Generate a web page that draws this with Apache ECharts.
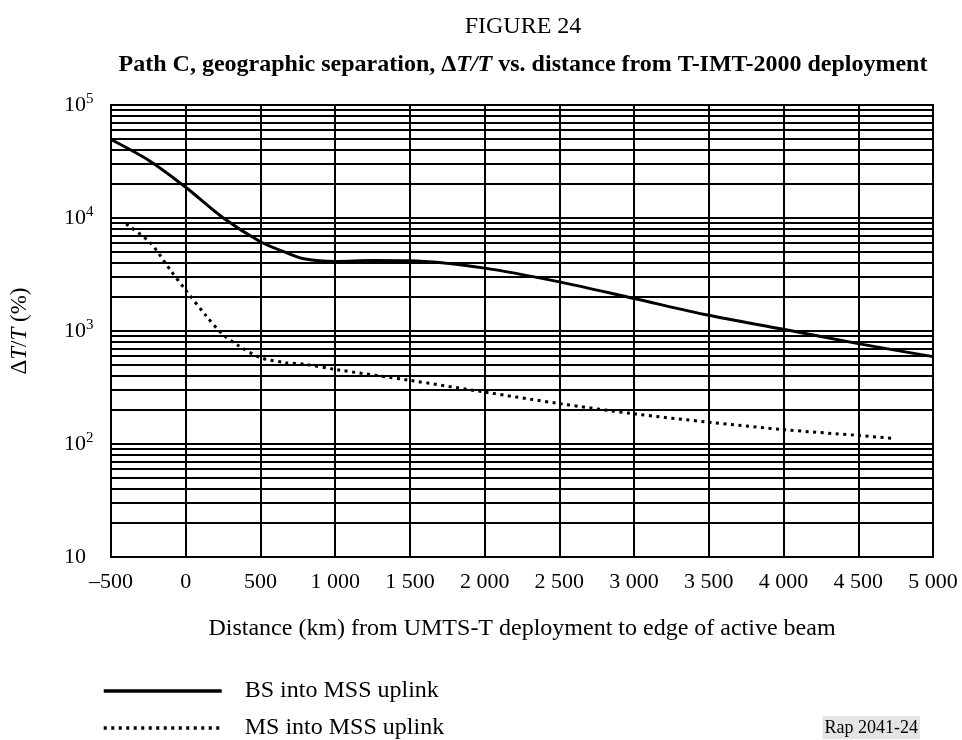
<!DOCTYPE html>
<html>
<head>
<meta charset="utf-8">
<script src="https://cdn.jsdelivr.net/npm/echarts@6/dist/echarts.min.js"></script>
<style>
html,body{margin:0;padding:0;background:#fff;}
#main{width:962px;height:740px;}
</style>
</head>
<body>
<div id="main"></div>
<script>
// ---- data ----
const xTicks = [-500, 0, 500, 1000, 1500, 2000, 2500, 3000, 3500, 4000, 4500, 5000];
const xTickLabels = ['\u2013500', '0', '500', '1 000', '1 500', '2 000', '2 500', '3 000', '3 500', '4 000', '4 500', '5 000'];
const yTickValues = [10, 100, 1000, 10000, 100000];
const yTickLabels = ['10', '10{s|2}', '10{s|3}', '10{s|4}', '10{s|5}'];

const bsX = [-500, -241, 0, 247, 500, 667, 800, 1000, 1250, 1500, 2000, 2500, 3000, 3500, 4000, 4500, 5000];
const bsY = [49500, 32000, 18700, 10100, 6160, 4970, 4330, 4130, 4200, 4180, 3600, 2720, 1940, 1377, 1035, 773, 593];

const msX = [-399, -239, -107, 0, 137, 247, 357, 500, 667, 800, 1000, 1500, 2000, 2500, 3000, 3500, 4000, 4500, 4734];
const msY = [8850, 6080, 3520, 2300, 1360, 935, 736, 581, 525, 507, 457, 366, 288, 228, 185, 156, 134, 119, 112];

const seriesNames = ['BS into MSS uplink', 'MS into MSS uplink'];

// minor log gridlines (2..9 x 10^k)
const minorGrid = [];
[10, 100, 1000, 10000].forEach(d => { for (let m = 2; m <= 9; m++) minorGrid.push(m * d); });

const FONT = 'Liberation Serif';
const chart = echarts.init(document.getElementById('main'), null, {renderer: 'canvas'});

const option = {
  animation: false,
  backgroundColor: '#fff',
  textStyle: {fontFamily: FONT, color: '#000'},
  title: [
    {
      text: 'FIGURE 24',
      left: 518, top: 10, textAlign: 'center',
      textStyle: {fontFamily: FONT, fontSize: 24, fontWeight: 'normal', color: '#000'}
    },
    {
      text: '{b|Path C, geographic separation, \u0394}{bi|T/T}{b| vs. distance from T-IMT-2000 deployment}',
      left: 518, top: 48, textAlign: 'center',
      textStyle: {
        fontFamily: FONT, fontSize: 24, fontWeight: 'bold', color: '#000',
        rich: {
          b: {fontFamily: FONT, fontSize: 24, fontWeight: 'bold', color: '#000'},
          bi: {fontFamily: FONT, fontSize: 24, fontWeight: 'bold', fontStyle: 'italic', color: '#000'}
        }
      }
    },
    {
      text: 'Rap 2041-24',
      right: 42, bottom: 1,
      backgroundColor: '#e4e4e4', padding: [3, 2, 2, 2],
      textStyle: {fontFamily: FONT, fontSize: 18, fontWeight: 'normal', color: '#000'}
    }
  ],
  legend: {
    orient: 'vertical',
    left: 102, bottom: 0, padding: 0,
    itemWidth: 118, itemHeight: 14, itemGap: 13,
    data: seriesNames,
    itemStyle: {color: 'transparent', borderColor: 'transparent', borderWidth: 0},
    lineStyle: {width: 3.5},
    textStyle: {fontFamily: FONT, fontSize: 24, color: '#000', padding: [0, 0, 0, 18], lineHeight: 24},
    selectedMode: false
  },
  grid: {
    left: 104, right: 29, top: 105, bottom: 183,
    show: true, borderColor: '#000', borderWidth: 2, backgroundColor: 'transparent'
  },
  xAxis: {
    type: 'value', min: -500, max: 5000, interval: 500,
    name: 'Distance (km) from UMTS-T deployment to edge of active beam',
    nameLocation: 'middle', nameGap: 60,
    nameTextStyle: {fontFamily: FONT, fontSize: 24, color: '#000'},
    axisLine: {show: true, lineStyle: {color: '#000', width: 2}},
    axisTick: {show: false},
    splitLine: {show: true, lineStyle: {color: '#000', width: 2}},
    axisLabel: {
      fontFamily: FONT, fontSize: 22, color: '#000', margin: 14,
      formatter: v => { const i = xTicks.indexOf(v); return i >= 0 ? xTickLabels[i] : ''; }
    }
  },
  yAxis: {
    type: 'log', logBase: 10, min: 10, max: 100000,
    name: '{n|\u0394}{i|T}{n|/}{i|T}{n| (%)}',
    nameLocation: 'middle', nameGap: 80, nameRotate: 90,
    nameTextStyle: {
      fontFamily: FONT, fontSize: 23, color: '#000',
      rich: {
        n: {fontFamily: FONT, fontSize: 23, color: '#000'},
        i: {fontFamily: FONT, fontSize: 23, fontStyle: 'italic', color: '#000'}
      }
    },
    axisLine: {show: true, lineStyle: {color: '#000', width: 2}},
    axisTick: {show: false},
    splitLine: {show: true, lineStyle: {color: '#000', width: 2}},
    axisLabel: {
      fontFamily: FONT, fontSize: 22, color: '#000', margin: 47, align: 'left',
      formatter: v => {
        const i = yTickValues.findIndex(t => Math.abs(t - v) / t < 1e-6);
        return i >= 0 ? yTickLabels[i] : '';
      },
      rich: {
        s: {fontFamily: FONT, fontSize: 15, color: '#000', padding: [0, 0, 12, 0]}
      }
    }
  },
  series: [
    {
      name: seriesNames[0], type: 'line', smooth: 0.3, symbol: 'none', z: 5,
      lineStyle: {color: '#000', width: 3, type: 'solid'},
      itemStyle: {color: '#000'},
      data: bsX.map((x, i) => [x, bsY[i]]),
      markLine: {
        silent: true, symbol: ['none', 'none'], animation: false,
        label: {show: false},
        lineStyle: {color: '#000', width: 2, type: 'solid'},
        emphasis: {disabled: true},
        data: minorGrid.map(v => ({yAxis: v}))
      }
    },
    {
      name: seriesNames[1], type: 'line', smooth: 0.3, symbol: 'none', z: 5,
      lineStyle: {color: '#000', width: 3, type: [3, 4.5]},
      itemStyle: {color: '#000'},
      data: msX.map((x, i) => [x, msY[i]])
    }
  ]
};
chart.setOption(option);
</script>
</body>
</html>
